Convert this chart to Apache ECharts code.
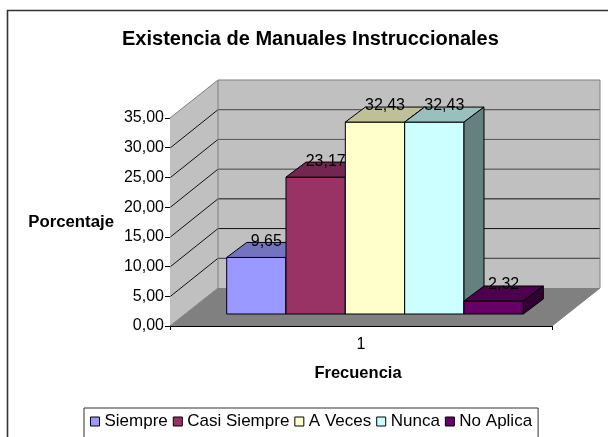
<!DOCTYPE html>
<html>
<head>
<meta charset="utf-8">
<style>html,body{margin:0;padding:0;background:#fff;overflow:hidden}#c{width:608px;height:437px}</style>
<script src="https://cdn.jsdelivr.net/npm/echarts@6/dist/echarts.min.js"></script>
</head>
<body>
<div id="c"></div>
<script>
var categories = ['1'];
var seriesNames = ['Siempre', 'Casi Siempre', 'A Veces', 'Nunca', 'No Aplica'];
var seriesValues = [9.65, 23.17, 32.43, 32.43, 2.32];
var seriesColors = ['#9999FF', '#993366', '#FFFFCC', '#CCFFFF', '#660066'];
var topColors = ['#7373BF', '#732650', '#BFBF99', '#99BFBF', '#4D004D'];
var sideColors = ['#4D4D80', '#4D1A33', '#808066', '#668080', '#330033'];
var axisTicks = [0, 5, 10, 15, 20, 25, 30, 35];
var gridLineColors = ['#666', '#333', '#111', '#111', '#444', '#555', '#444', '#808080'];
var font = '"Liberation Sans", Arial, sans-serif';
function comma(v) { return v.toFixed(2).replace('.', ','); }

var chart = echarts.init(document.getElementById('c'), null, { renderer: 'canvas' });
var WX = 48, WY = 38;           // wall depth
var FX = 14, FY = 12;           // bars' distance from the front edge
var DX = 20, DY = 15;           // bar depth

function poly(pts, fill, stroke, w) {
  return { type: 'polygon', shape: { points: pts },
    style: { fill: fill, stroke: stroke || null, lineWidth: w || 0 } };
}
function line(x1, y1, x2, y2, color, w) {
  return { type: 'line', shape: { x1: x1, y1: y1, x2: x2, y2: y2 },
    style: { stroke: color, lineWidth: w || 1, fill: null } };
}

function renderWalls(params, api) {
  var b = api.coord([0, 0]), t = api.coord([0, 35]);
  var band = api.size([1, 0])[0];
  var xl = b[0] - band / 2, xr = b[0] + band / 2, y0 = b[1], y35 = t[1];
  var kids = [
    poly([[xl, y0], [xr, y0], [xr + WX, y0 - WY], [xl + WX, y0 - WY]], '#808080'),
    poly([[xl, y0], [xl, y35], [xl + WX, y35 - WY], [xl + WX, y0 - WY]], '#C0C0C0'),
    poly([[xl + WX, y0 - WY], [xl + WX, y35 - WY], [xr + WX, y35 - WY], [xr + WX, y0 - WY]], '#C0C0C0')
  ];
  axisTicks.forEach(function (v, i) {
    var y = api.coord([0, v])[1];
    if (v > 0 && v < 35) {
      kids.push(line(xl + 0.5, y, xl + WX, y - WY, '#111'));
      kids.push(line(xl + WX, y - WY, xr + WX, y - WY, gridLineColors[i]));
    }
  });
  kids.push(line(xl, y35, xl + WX, y35 - WY, '#808080', 1));
  kids.push(line(xl + WX, y35 - WY, xr + WX, y35 - WY, '#808080', 1));
  kids.push(line(xl + WX, y35 - WY, xl + WX, y0 - WY, '#808080', 1));
  kids.push(line(xr + WX, y35 - WY, xr + WX, y0 - WY, '#808080', 1));
  kids.push(line(xl, y0, xl + WX, y0 - WY, '#808080', 1));
  kids.push(line(xr, y0, xr + WX, y0 - WY, '#808080', 1));
  return { type: 'group', children: kids };
}

function makeBar(idx) {
  return function (params, api) {
    var c = api.coord([0, api.value(1)]), b = api.coord([0, 0]);
    var band = api.size([1, 0])[0], w = band * 0.1553;
    var xa = c[0] + (idx - 2.5) * w + FX, xb = xa + w;
    var yb = b[1] - FY, yt = c[1] - FY + 0.8;
    var s = '#000';
    return { type: 'group', children: [
      poly([[xa, yb], [xb, yb], [xb, yt], [xa, yt]], seriesColors[idx], s, 1),
      poly([[xa, yt], [xb, yt], [xb + DX, yt - DY], [xa + DX, yt - DY]], topColors[idx], s, 1),
      poly([[xb, yb], [xb + DX, yb - DY], [xb + DX, yt - DY], [xb, yt]], sideColors[idx], s, 1),
      { type: 'text', z2: 100, style: { x: (xa + xb) / 2 + DX / 2, y: yt - DY - 1,
        text: comma(api.value(1)), fill: '#000', font: '16px ' + font,
        align: 'center', verticalAlign: 'middle' } }
    ] };
  };
}

var series = [{
  type: 'custom', name: '__walls', silent: true, z: 1, clip: false,
  renderItem: renderWalls, data: [[0, 0]], encode: { x: 0, y: 1 }
}];
seriesNames.forEach(function (n, i) {
  series.push({
    type: 'custom', name: n, z: 2 + i, clip: false,
    itemStyle: { color: seriesColors[i] },
    renderItem: makeBar(i),
    encode: { x: 0, y: 1 },
    data: [[0, seriesValues[i]]]
  });
});

chart.setOption({
  animation: false,
  backgroundColor: '#fff',
  textStyle: { fontFamily: font },
  graphic: [{ type: 'rect', z: 0, silent: true,
    shape: { x: 7.5, y: 10.5, width: 700, height: 600 },
    style: { fill: 'none', stroke: '#333', lineWidth: 1.6 } }],
  title: { text: 'Existencia de Manuales Instruccionales', left: 122, top: 29, padding: 0,
    textStyle: { fontSize: 20, fontWeight: 'bold', color: '#000', fontFamily: font } },
  grid: { left: 170, right: 56, top: 118, bottom: 111, containLabel: false, outerBoundsMode: 'none' },
  xAxis: { type: 'category', data: categories, name: 'Frecuencia', nameLocation: 'middle', nameGap: 39,
    nameTextStyle: { fontSize: 16.5, fontWeight: 'bold', color: '#000', fontFamily: font, padding: [0, 6, 0, 0] },
    axisLine: { onZero: false, lineStyle: { color: '#000', width: 1 } },
    axisTick: { show: true, length: 4, lineStyle: { color: '#000' } },
    axisLabel: { color: '#000', fontSize: 16, fontFamily: font, margin: 11 },
    splitLine: { show: false } },
  yAxis: { type: 'value', min: 0, max: 35, interval: 5, name: 'Porcentaje', nameLocation: 'middle', nameRotate: 0, nameGap: 56,
    nameTextStyle: { fontSize: 16.8, fontWeight: 'bold', color: '#000', fontFamily: font },
    axisLine: { show: true, lineStyle: { color: '#000', width: 1 } },
    axisTick: { show: true, length: 5, lineStyle: { color: '#000' } },
    axisLabel: { color: '#000', fontSize: 16, fontFamily: font, margin: 6, formatter: function (v) { return comma(v); } },
    splitLine: { show: false } },
  legend: { data: seriesNames, left: 84, top: 408, orient: 'horizontal',
    padding: [5, 6, 20, 6], itemGap: 5, itemWidth: 9, itemHeight: 9, icon: 'rect',
    borderColor: '#333', borderWidth: 1, backgroundColor: '#fff',
    itemStyle: { borderColor: '#000', borderWidth: 1 },
    textStyle: { fontSize: 17, color: '#000', fontFamily: font } },
  series: series
});
</script>
</body>
</html>
